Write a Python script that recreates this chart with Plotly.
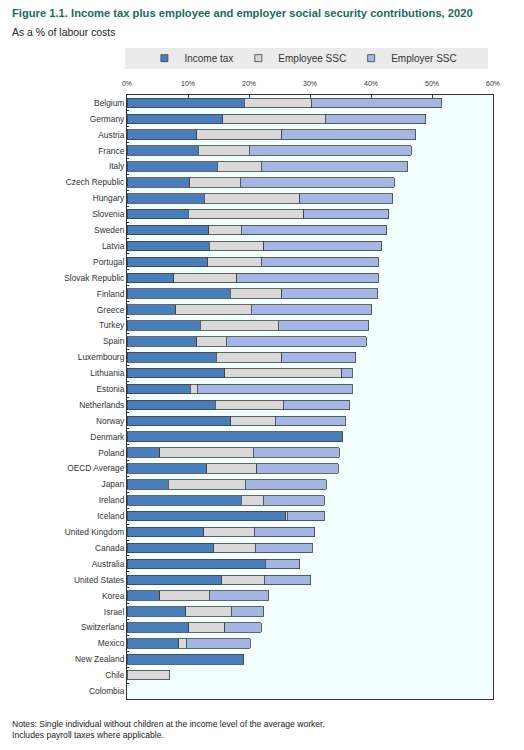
import plotly.graph_objects as go

countries = ["Belgium", "Germany", "Austria", "France", "Italy", "Czech Republic",
             "Hungary", "Slovenia", "Sweden", "Latvia", "Portugal", "Slovak Republic",
             "Finland", "Greece", "Turkey", "Spain", "Luxembourg", "Lithuania",
             "Estonia", "Netherlands", "Norway", "Denmark", "Poland", "OECD Average",
             "Japan", "Ireland", "Iceland", "United Kingdom", "Canada", "Australia",
             "United States", "Korea", "Israel", "Switzerland", "Mexico",
             "New Zealand", "Chile", "Colombia"]

income_tax = [19.2, 15.7, 11.4, 11.7, 14.8, 10.3, 12.7, 10.0, 13.4, 13.5, 13.2, 7.7,
              16.9, 8.0, 12.0, 11.4, 14.6, 16.0, 10.4, 14.5, 17.0, 35.4, 5.4, 13.1,
              6.8, 18.7, 26.0, 12.6, 14.2, 22.7, 15.5, 5.4, 9.6, 10.1, 8.5,
              19.1, None, None]

employee_ssc = [11.0, 16.8, 14.0, 8.3, 7.2, 8.3, 15.6, 19.0, 5.3, 8.9, 8.8, 10.3,
                8.5, 12.4, 12.8, 4.9, 10.8, 19.2, 1.1, 11.1, 7.3, None, 15.3, 8.2,
                12.6, 3.6, 0.3, 8.3, 6.8, None, 7.0, 8.1, 7.5, 5.9, 1.2,
                None, 7.0, None]

employer_ssc = [21.3, 16.5, 21.9, 26.6, 24.0, 25.2, 15.3, 13.9, 23.9, 19.4, 19.2, 23.2,
                15.7, 19.7, 14.8, 22.9, 12.1, 1.7, 25.4, 10.8, 11.5, None, 14.1, 13.3,
                13.3, 10.0, 6.0, 9.9, 9.4, 5.6, 7.6, 9.7, 5.3, 6.0, 10.5,
                None, None, None]

series = [
    ("Income tax", income_tax, "#4a7ebb"),
    ("Employee SSC", employee_ssc, "#d9d9d9"),
    ("Employer SSC", employer_ssc, "#a5b6e3"),
]

fig = go.Figure()
for name, vals, col in series:
    fig.add_trace(go.Bar(
        y=countries, x=vals, name=name, orientation="h", showlegend=False,
        marker=dict(color=col, line=dict(color="#404040", width=0.8)),
    ))

# small square legend keys, like the original
for name, vals, col in series:
    fig.add_trace(go.Scatter(
        x=[None], y=[None], name=name, mode="markers",
        marker=dict(symbol="square", size=7, color=col, line=dict(color="#404040", width=0.8)),
    ))

font_main = "Liberation Sans, Arial, sans-serif"

# page body adds 8px offset, so margins are shifted by 8
fig.update_layout(
    width=524, height=750,
    barmode="stack", bargap=0.4,
    margin=dict(l=119, r=39, t=87, b=59),
    paper_bgcolor="white",
    plot_bgcolor="#f3ffff",
    font=dict(family=font_main, size=8, color="#333333"),
    showlegend=True,
    legend=dict(
        orientation="h", x=0.482, xanchor="center", y=1.061, yanchor="middle",
        bgcolor="rgba(0,0,0,0)", font=dict(size=10, color="#333333"),
        itemwidth=30, traceorder="normal",
    ),
    xaxis=dict(
        side="top", range=[0, 60], dtick=10, ticksuffix="%",
        ticks="inside", ticklen=3, tickcolor="#333333",
        ticklabelstandoff=5,
        showgrid=False, zeroline=False,
        showline=True, mirror=True, linecolor="#333333", linewidth=1,
        tickfont=dict(size=7, color="#333333"),
    ),
    yaxis=dict(
        autorange="reversed", ticks="inside", ticklen=2, tickson="boundaries",
        tickcolor="#333333", showgrid=False,
        showline=True, mirror=True, linecolor="#333333", linewidth=1,
        tickfont=dict(size=8.4, color="#333333"),
    ),
    shapes=[dict(
        type="rect", xref="paper", yref="paper",
        x0=-0.005, x1=0.986, y0=1.043, y1=1.078,
        fillcolor="#ebebeb", line=dict(width=0), layer="below",
    )],
    annotations=[
        dict(text="<b>Figure 1.1. Income tax plus employee and employer social security contributions, 2020</b>",
             xref="paper", yref="paper", x=-0.32, y=1.136, xanchor="left", yanchor="middle",
             showarrow=False,
             font=dict(family=font_main, size=11.2, color="#1c6b5c")),
        dict(text="As a % of labour costs",
             xref="paper", yref="paper", x=-0.32, y=1.103, xanchor="left", yanchor="middle",
             showarrow=False, font=dict(size=10.4, color="#222222")),
        dict(text="Notes: Single individual without children at the income level of the average worker.<br>Includes payroll taxes where applicable.",
             xref="paper", yref="paper", x=-0.32, y=-0.029, xanchor="left", yanchor="top",
             align="left", showarrow=False, font=dict(size=8.6, color="#222222")),
    ],
)

fig.write_html("out.html")
